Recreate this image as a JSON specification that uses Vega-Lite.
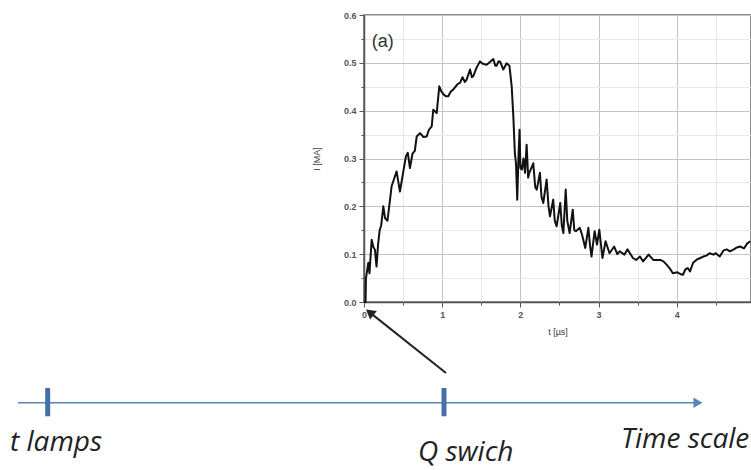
{
  "$schema": "https://vega.github.io/schema/vega-lite/v6.json",
  "width": 387,
  "height": 287,
  "autosize": {"type": "none"},
  "padding": {"left": 364, "top": 15, "right": 0, "bottom": 168},
  "background": "white",
  "config": {
    "view": {"stroke": "#666", "strokeWidth": 1.5},
    "axis": {
      "labelFont": "Liberation Sans",
      "labelFontSize": 9,
      "labelFontWeight": "bold",
      "labelColor": "#555",
      "titleFont": "Liberation Sans",
      "titleFontSize": 9,
      "titleFontWeight": "normal",
      "titleColor": "#444",
      "domainColor": "#555",
      "domainWidth": 1.5,
      "tickColor": "#555"
    }
  },
  "datasets": {
    "curve": [
      {"x":0,"y":0},{"x":0.02,"y":0},{"x":0.025,"y":0.05},{"x":0.055,"y":0.082},{"x":0.07,"y":0.06},{"x":0.098,"y":0.13},{"x":0.12,"y":0.115},{"x":0.14,"y":0.109},{"x":0.16,"y":0.074},{"x":0.18,"y":0.12},{"x":0.2,"y":0.15},{"x":0.22,"y":0.16},{"x":0.247,"y":0.2},{"x":0.27,"y":0.175},{"x":0.3,"y":0.17},{"x":0.33,"y":0.21},{"x":0.353,"y":0.242},{"x":0.38,"y":0.255},{"x":0.417,"y":0.273},{"x":0.44,"y":0.25},{"x":0.46,"y":0.231},{"x":0.5,"y":0.27},{"x":0.537,"y":0.305},{"x":0.56,"y":0.312},{"x":0.588,"y":0.28},{"x":0.62,"y":0.31},{"x":0.65,"y":0.316},{"x":0.674,"y":0.346},{"x":0.717,"y":0.353},{"x":0.76,"y":0.345},{"x":0.802,"y":0.346},{"x":0.83,"y":0.36},{"x":0.866,"y":0.367},{"x":0.886,"y":0.402},{"x":0.93,"y":0.395},{"x":0.963,"y":0.451},{"x":0.99,"y":0.44},{"x":1.016,"y":0.434},{"x":1.05,"y":0.43},{"x":1.078,"y":0.43},{"x":1.11,"y":0.44},{"x":1.14,"y":0.444},{"x":1.17,"y":0.45},{"x":1.2,"y":0.456},{"x":1.228,"y":0.458},{"x":1.26,"y":0.47},{"x":1.29,"y":0.46},{"x":1.313,"y":0.465},{"x":1.356,"y":0.486},{"x":1.38,"y":0.47},{"x":1.398,"y":0.472},{"x":1.44,"y":0.49},{"x":1.483,"y":0.503},{"x":1.52,"y":0.498},{"x":1.569,"y":0.496},{"x":1.6,"y":0.5},{"x":1.654,"y":0.508},{"x":1.68,"y":0.494},{"x":1.697,"y":0.494},{"x":1.72,"y":0.503},{"x":1.74,"y":0.503},{"x":1.782,"y":0.486},{"x":1.825,"y":0.499},{"x":1.86,"y":0.494},{"x":1.889,"y":0.451},{"x":1.91,"y":0.388},{"x":1.93,"y":0.31},{"x":1.944,"y":0.29},{"x":1.96,"y":0.214},{"x":1.975,"y":0.3},{"x":1.99,"y":0.36},{"x":2.0,"y":0.28},{"x":2.02,"y":0.277},{"x":2.04,"y":0.3},{"x":2.06,"y":0.27},{"x":2.08,"y":0.329},{"x":2.1,"y":0.26},{"x":2.114,"y":0.27},{"x":2.14,"y":0.28},{"x":2.165,"y":0.29},{"x":2.19,"y":0.24},{"x":2.21,"y":0.235},{"x":2.25,"y":0.27},{"x":2.27,"y":0.22},{"x":2.293,"y":0.207},{"x":2.336,"y":0.256},{"x":2.36,"y":0.2},{"x":2.379,"y":0.179},{"x":2.42,"y":0.214},{"x":2.44,"y":0.17},{"x":2.464,"y":0.158},{"x":2.51,"y":0.207},{"x":2.53,"y":0.16},{"x":2.55,"y":0.144},{"x":2.58,"y":0.235},{"x":2.6,"y":0.17},{"x":2.63,"y":0.144},{"x":2.67,"y":0.193},{"x":2.69,"y":0.15},{"x":2.71,"y":0.148},{"x":2.76,"y":0.155},{"x":2.79,"y":0.14},{"x":2.83,"y":0.113},{"x":2.87,"y":0.155},{"x":2.89,"y":0.12},{"x":2.91,"y":0.095},{"x":2.95,"y":0.148},{"x":2.98,"y":0.12},{"x":3.01,"y":0.151},{"x":3.05,"y":0.092},{"x":3.09,"y":0.127},{"x":3.14,"y":0.102},{"x":3.2,"y":0.116},{"x":3.24,"y":0.1},{"x":3.27,"y":0.106},{"x":3.33,"y":0.099},{"x":3.37,"y":0.11},{"x":3.44,"y":0.092},{"x":3.48,"y":0.088},{"x":3.53,"y":0.095},{"x":3.57,"y":0.085},{"x":3.64,"y":0.099},{"x":3.7,"y":0.088},{"x":3.79,"y":0.088},{"x":3.83,"y":0.085},{"x":3.87,"y":0.078},{"x":3.92,"y":0.068},{"x":3.95,"y":0.06},{"x":4.01,"y":0.062},{"x":4.05,"y":0.058},{"x":4.08,"y":0.057},{"x":4.11,"y":0.068},{"x":4.14,"y":0.071},{"x":4.17,"y":0.064},{"x":4.21,"y":0.082},{"x":4.25,"y":0.088},{"x":4.3,"y":0.092},{"x":4.34,"y":0.095},{"x":4.38,"y":0.097},{"x":4.42,"y":0.102},{"x":4.47,"y":0.099},{"x":4.5,"y":0.102},{"x":4.55,"y":0.095},{"x":4.6,"y":0.108},{"x":4.64,"y":0.11},{"x":4.68,"y":0.106},{"x":4.73,"y":0.11},{"x":4.77,"y":0.114},{"x":4.81,"y":0.116},{"x":4.86,"y":0.112},{"x":4.9,"y":0.122},{"x":4.94,"y":0.127}
    ],
    "timeline": [{"x": -4.426, "x2": 4.259, "y": -0.2106}],
    "ticks": [{"x": -4.046, "y": -0.1798, "y2": -0.2389}, {"x": 1.023, "y": -0.1798, "y2": -0.2389}],
    "timehead": [{"x": 4.272, "y": -0.2106}],
    "arrow": [{"x": 1.049, "y": -0.1484, "x2": 0.073, "y2": -0.0217}],
    "arrowhead": [{"x": 0.073, "y": -0.0217}],
    "labels": [
      {"x": -4.528, "y": -0.312, "label": "t lamps"},
      {"x": 0.691, "y": -0.333, "label": "Q swich"},
      {"x": 3.287, "y": -0.306, "label": "Time scale"}
    ],
    "panel": [{"x": 0.1, "y": 0.534, "label": "(a)"}]
  },
  "encoding": {
    "x": {
      "field": "x", "type": "quantitative",
      "scale": {"domain": [0, 4.95], "nice": false, "zero": false},
      "axis": {
        "title": "t [µs]",
        "values": [0, 0.5, 1, 1.5, 2, 2.5, 3, 3.5, 4, 4.5],
        "labelExpr": "datum.value % 1 === 0 ? format(datum.value, 'd') : ''",
        "grid": true,
        "gridColor": {"condition": {"test": "datum.value % 1 === 0", "value": "#c4c4c4"}, "value": "#e8e8e8"},
        "tickSize": {"condition": {"test": "datum.value % 1 === 0", "value": 5}, "value": 3},
        "labelPadding": 3,
        "titlePadding": 8,
        "labelFlush": false
      }
    },
    "y": {
      "field": "y", "type": "quantitative",
      "scale": {"domain": [0, 0.6], "nice": false, "zero": false},
      "axis": {
        "title": "I [MA]",
        "values": [0, 0.05, 0.1, 0.15, 0.2, 0.25, 0.3, 0.35, 0.4, 0.45, 0.5, 0.55, 0.6],
        "labelExpr": "abs(datum.value * 10 - round(datum.value * 10)) < 0.001 ? format(datum.value, '.1f') : ''",
        "grid": true,
        "gridColor": {"condition": {"test": "abs(datum.value * 10 - round(datum.value * 10)) < 0.001", "value": "#c4c4c4"}, "value": "#e8e8e8"},
        "tickSize": {"condition": {"test": "abs(datum.value * 10 - round(datum.value * 10)) < 0.001", "value": 5}, "value": 3},
        "labelPadding": 3,
        "titlePadding": 22,
        "labelFlush": false
      }
    }
  },
  "layer": [
    {
      "data": {"name": "curve"},
      "mark": {"type": "line", "color": "#111", "strokeWidth": 2, "strokeJoin": "round"},
      "encoding": {}
    },
    {
      "data": {"name": "panel"},
      "mark": {"type": "text", "align": "left", "baseline": "alphabetic", "font": "Liberation Sans", "fontSize": 18, "color": "#333"},
      "encoding": {"text": {"field": "label"}}
    },
    {
      "data": {"name": "timeline"},
      "mark": {"type": "rule", "color": "#5a86b8", "strokeWidth": 1.6},
      "encoding": {"x2": {"field": "x2"}}
    },
    {
      "data": {"name": "timehead"},
      "mark": {"type": "point", "shape": "triangle-right", "filled": true, "size": 110, "color": "#5a86b8", "opacity": 1},
      "encoding": {}
    },
    {
      "data": {"name": "ticks"},
      "mark": {"type": "rule", "color": "#4470a6", "strokeWidth": 5},
      "encoding": {"y2": {"field": "y2"}}
    },
    {
      "data": {"name": "arrow"},
      "mark": {"type": "rule", "color": "#222", "strokeWidth": 2},
      "encoding": {"x2": {"field": "x2"}, "y2": {"field": "y2"}}
    },
    {
      "data": {"name": "arrowhead"},
      "mark": {"type": "point", "shape": "triangle-up", "filled": true, "size": 120, "color": "#222", "opacity": 1, "angle": 308},
      "encoding": {}
    },
    {
      "data": {"name": "labels"},
      "mark": {"type": "text", "align": "left", "baseline": "alphabetic", "font": "Open Sans", "fontStyle": "italic", "fontSize": 28, "color": "#222"},
      "encoding": {"text": {"field": "label"}}
    }
  ]
}
